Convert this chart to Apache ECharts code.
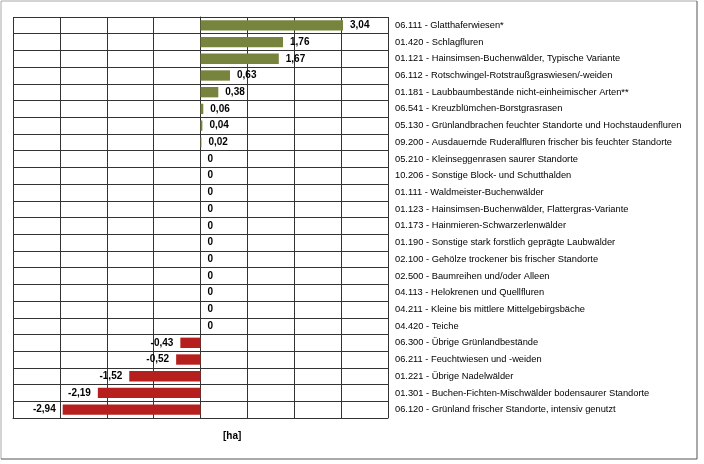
<!DOCTYPE html>
<html><head><meta charset="utf-8">
<script src="https://cdn.jsdelivr.net/npm/echarts@6/dist/echarts.min.js"></script>
<style>html,body{margin:0;padding:0;background:#fff}#c{width:704px;height:464px}</style>
</head><body><div id="c"></div>
<script>
var categories = [
"06.111 - Glatthaferwiesen*",
"01.420 - Schlagfluren",
"01.121 - Hainsimsen-Buchenwälder, Typische Variante",
"06.112 - Rotschwingel-Rotstraußgraswiesen/-weiden",
"01.181 - Laubbaumbestände nicht-einheimischer Arten**",
"06.541 - Kreuzblümchen-Borstgrasrasen",
"05.130 - Grünlandbrachen feuchter Standorte und Hochstaudenfluren",
"09.200 - Ausdauernde Ruderalfluren frischer bis feuchter Standorte",
"05.210 - Kleinseggenrasen saurer Standorte",
"10.206 - Sonstige Block- und Schutthalden",
"01.111 - Waldmeister-Buchenwälder",
"01.123 - Hainsimsen-Buchenwälder, Flattergras-Variante",
"01.173 - Hainmieren-Schwarzerlenwälder",
"01.190 - Sonstige stark forstlich geprägte Laubwälder",
"02.100 - Gehölze trockener bis frischer Standorte",
"02.500 - Baumreihen und/oder Alleen",
"04.113 - Helokrenen und Quellfluren",
"04.211 - Kleine bis mittlere Mittelgebirgsbäche",
"04.420 - Teiche",
"06.300 - Übrige Grünlandbestände",
"06.211 - Feuchtwiesen und -weiden",
"01.221 - Übrige Nadelwälder",
"01.301 - Buchen-Fichten-Mischwälder bodensaurer Standorte",
"06.120 - Grünland frischer Standorte, intensiv genutzt"
];
var values = [3.04, 1.76, 1.67, 0.63, 0.38, 0.06, 0.04, 0.02, 0, 0, 0, 0, 0, 0, 0, 0, 0, 0, 0, -0.43, -0.52, -1.52, -2.19, -2.94];
var axisName = "[ha]";
</script>
<script>
var chart = echarts.init(document.getElementById('c'), null, {renderer:'canvas'});
var sans = "'Liberation Sans', Arial, sans-serif";
var posColor = '#77843d', negColor = '#b5201e';
function fmt(v){ return v === 0 ? '0' : v.toFixed(2).replace('.', ','); }
var data = values.map(function(v){
  return {
    value: v,
    itemStyle: {color: v >= 0 ? posColor : negColor},
    label: {position: v < 0 ? 'left' : 'right'}
  };
});
chart.setOption({
  animation: false,
  grid: {left: 13, right: 316, top: 17, bottom: 46, containLabel: false, outerBoundsMode: 'none'},
  xAxis: {
    type: 'value', min: -4, max: 4, interval: 1,
    axisLabel: {show: false}, axisTick: {show: false},
    axisLine: {show: true, lineStyle: {color: '#333', width: 1}},
    splitLine: {show: true, lineStyle: {color: '#333', width: 1}}
  },
  yAxis: {
    type: 'category', data: categories, inverse: true, position: 'right',
    axisLine: {show: true, lineStyle: {color: '#333'}},
    axisTick: {show: false},
    axisLabel: {margin: 7, color: '#000', fontSize: 9.3, fontFamily: sans, align: 'left'},
    splitLine: {show: true, lineStyle: {color: '#333', width: 1}}
  },
  series: [{
    type: 'bar', data: data, barWidth: '62%',
    label: {show: true, formatter: function(p){return fmt(p.value);}, distance: 7,
      fontWeight: 'bold', fontSize: 10, color: '#000', fontFamily: sans}
  }],
  graphic: [
    {type: 'polyline', shape: {points: [[1,459],[1,1],[697,1]]}, style: {stroke: '#a8a8a8', lineWidth: 1, fill: null}, silent: true},
    {type: 'polyline', shape: {points: [[697,1],[697,459],[1,459]]}, style: {stroke: '#555', lineWidth: 1, fill: null}, silent: true},
    {type: 'text', left: 223, top: 431, style: {text: axisName, font: "bold 10px " + sans, fill: '#000'}}
  ]
});
</script>
</body></html>
